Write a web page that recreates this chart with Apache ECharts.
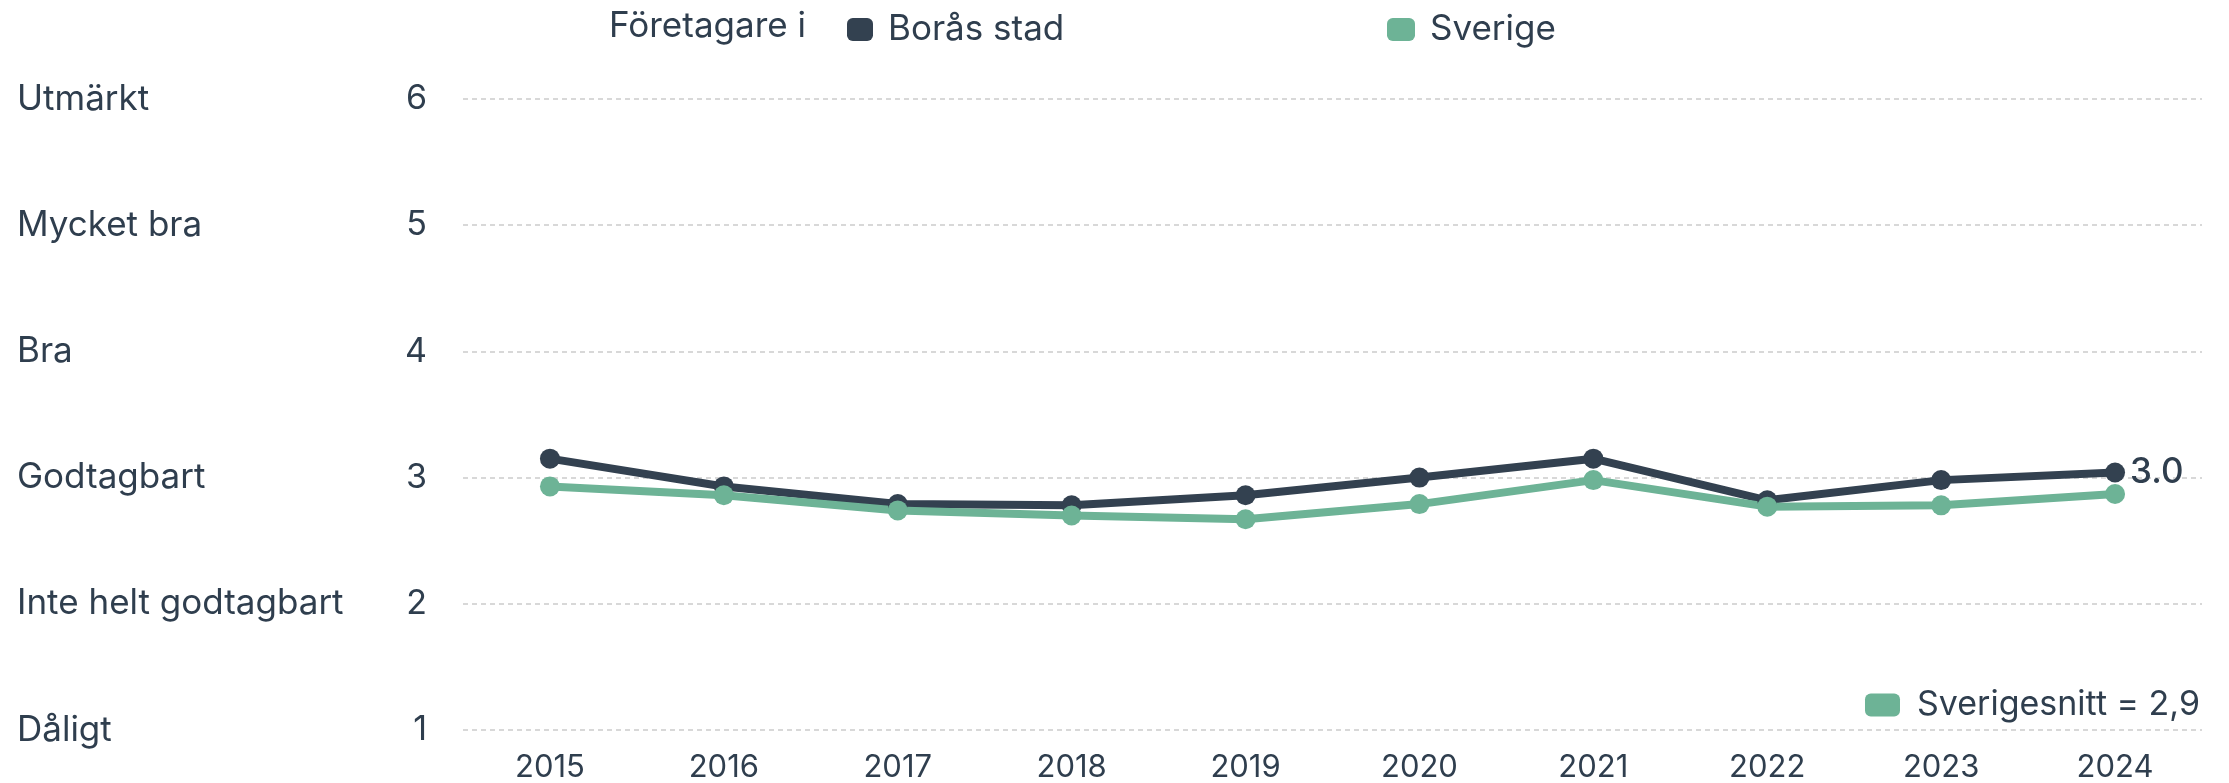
<!DOCTYPE html>
<html>
<head>
<meta charset="utf-8">
<style>
  html, body { margin: 0; padding: 0; background: #fff; }
  #chart { width: 2229px; height: 783px; }
</style>
<script src="https://cdn.jsdelivr.net/npm/echarts@6/dist/echarts.min.js"></script>
</head>
<body>
<div id="chart"></div>
<script>
// data
var years = ['2015', '2016', '2017', '2018', '2019', '2020', '2021', '2022', '2023', '2024'];
var boras = [3.15, 2.93, 2.79, 2.78, 2.86, 3.00, 3.15, 2.82, 2.98, 3.04];
var sverige = [2.93, 2.86, 2.74, 2.70, 2.67, 2.79, 2.98, 2.77, 2.78, 2.87];
var gradeNames = ['Dåligt', 'Inte helt godtagbart', 'Godtagbart', 'Bra', 'Mycket bra', 'Utmärkt'];
var snittLabel = 'Sverigesnitt = 2,9';

var dark = '#334150';
var green = '#6db396';
var textCol = '#2f3e4e';
var font = 'Inter';

var chart = echarts.init(document.getElementById('chart'));
chart.setOption({
    animation: false,
    textStyle: { fontFamily: font, color: textCol },
    title: {
        text: 'Företagare i',
        left: 604,
        top: 4,
        textStyle: { fontFamily: font, fontSize: 35, fontWeight: 'normal', color: textCol }
    },
    legend: [
        {
            data: ['Borås stad'],
            left: 842, top: 7,
            icon: 'roundRect', itemWidth: 26, itemHeight: 23, itemGap: 0,
            textStyle: { fontFamily: font, fontSize: 35, color: textCol, padding: [0, 0, 0, 10] }
        },
        {
            data: ['Sverige'],
            left: 1382, top: 7,
            icon: 'roundRect', itemWidth: 28, itemHeight: 23,
            textStyle: { fontFamily: font, fontSize: 35, color: textCol, padding: [0, 0, 0, 10] }
        },
        {
            data: [snittLabel],
            right: 24, top: 683,
            icon: 'roundRect', itemWidth: 35, itemHeight: 23,
            textStyle: { fontFamily: font, fontSize: 34, color: textCol, padding: [0, 0, 0, 12] }
        }
    ],
    grid: { left: 463, right: 27, top: 99, bottom: 52, containLabel: false },
    xAxis: {
        type: 'category',
        data: years,
        boundaryGap: true,
        axisLine: { show: false },
        axisTick: { show: false },
        axisLabel: { fontFamily: font, fontSize: 31, color: textCol, margin: 22 }
    },
    yAxis: [
        {
            type: 'value', min: 1, max: 6, interval: 1,
            axisLine: { show: false }, axisTick: { show: false },
            axisLabel: { fontFamily: font, fontSize: 34, color: textCol, margin: 36 },
            splitLine: { lineStyle: { color: '#cccccc', type: [5, 4], width: 1.5 } }
        },
        {
            type: 'value', min: 1, max: 6, interval: 1, position: 'left',
            axisLine: { show: false }, axisTick: { show: false },
            splitLine: { show: false },
            axisLabel: {
                fontFamily: font, fontSize: 35, color: textCol, margin: 446, align: 'left',
                verticalAlign: 'middle', padding: [9, 0, 0, 0],
                formatter: function (v) { return gradeNames[v - 1]; }
            }
        }
    ],
    series: [
        {
            name: 'Borås stad',
            type: 'line',
            data: boras,
            color: dark,
            symbol: 'circle', symbolSize: 20,
            lineStyle: { width: 8, color: dark },
            itemStyle: { color: dark },
            endLabel: {
                show: true, distance: 15,
                fontFamily: font, fontSize: 35, fontWeight: 500, color: textCol,
                formatter: function (p) { return p.value.toFixed(1); }
            }
        },
        {
            name: 'Sverige',
            type: 'line',
            data: sverige,
            color: green,
            symbol: 'circle', symbolSize: 20,
            lineStyle: { width: 8, color: green },
            itemStyle: { color: green }
        },
        {
            name: snittLabel,
            type: 'line',
            data: [],
            color: green,
            itemStyle: { color: green }
        }
    ]
});
</script>
</body>
</html>
